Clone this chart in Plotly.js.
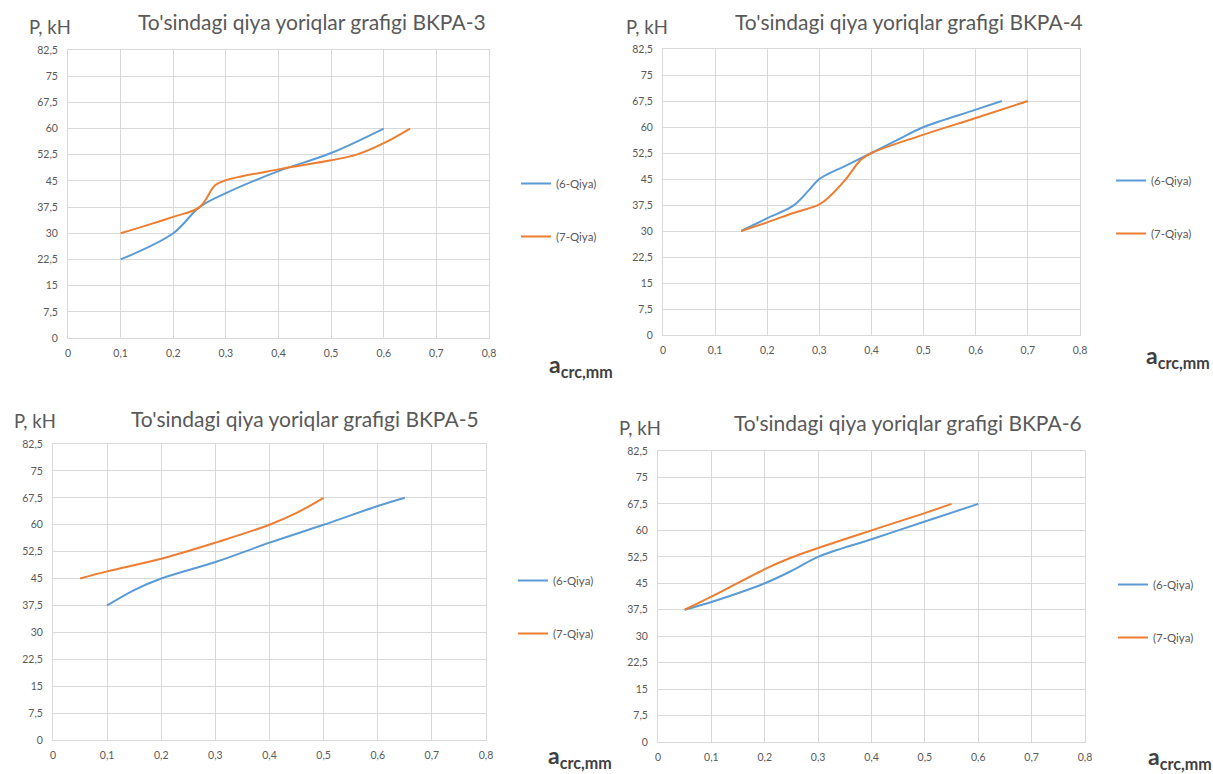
<!DOCTYPE html>
<html>
<head>
<meta charset="utf-8">
<script src="https://cdn.plot.ly/plotly-3.0.1.min.js"></script>
<style>html,body{margin:0;padding:0;background:#fff}#chart{width:1213px;height:774px}</style>
</head>
<body>
<div id="chart"></div>
<script>
// ---- data ----
const xTickVals = [0, 0.1, 0.2, 0.3, 0.4, 0.5, 0.6, 0.7, 0.8];
const xTickText = ['0', '0,1', '0,2', '0,3', '0,4', '0,5', '0,6', '0,7', '0,8'];
const yTickVals = [0, 7.5, 15, 22.5, 30, 37.5, 45, 52.5, 60, 67.5, 75, 82.5];
const yTickText = ['0', '7,5', '15', '22,5', '30', '37,5', '45', '52,5', '60', '67,5', '75', '82,5'];

const seriesNames = ['(6-Qiya)', '(7-Qiya)'];
const chartTitles = [
  "To'sindagi qiya yoriqlar grafigi BKPA-3",
  "To'sindagi qiya yoriqlar grafigi BKPA-4",
  "To'sindagi qiya yoriqlar grafigi BKPA-5",
  "To'sindagi qiya yoriqlar grafigi BKPA-6"
];
const yLabel = 'P, kH';
const xLabel = 'a<sub>crc,mm</sub>';

// BKPA-3
const bkpa3_x6 = [0.1, 0.2, 0.25, 0.3, 0.4, 0.5, 0.6];
const bkpa3_y6 = [22.5, 30, 37.5, 41.5, 47.8, 53, 60];
const bkpa3_x7 = [0.1, 0.2, 0.25, 0.28, 0.3, 0.4, 0.5, 0.55, 0.6, 0.65];
const bkpa3_y7 = [30, 34.7, 37.5, 43.8, 45.2, 48.3, 50.9, 52.6, 55.8, 60];

// BKPA-4
const bkpa4_x6 = [0.15, 0.2, 0.25, 0.28, 0.3, 0.35, 0.4, 0.45, 0.5, 0.6, 0.65];
const bkpa4_y6 = [30, 33.7, 37.3, 41.8, 45, 48.8, 52.5, 56.3, 60, 65, 67.5];
const bkpa4_x7 = [0.15, 0.2, 0.25, 0.3, 0.32, 0.35, 0.38, 0.4, 0.5, 0.6, 0.7];
const bkpa4_y7 = [30, 32.5, 35.2, 37.7, 40, 44.8, 50.6, 52.5, 57.8, 62.6, 67.5];

// BKPA-5
const bkpa5_x6 = [0.1, 0.15, 0.2, 0.3, 0.4, 0.5, 0.6, 0.65];
const bkpa5_y6 = [37.5, 41.8, 45, 49.6, 55, 60, 65.2, 67.5];
const bkpa5_x7 = [0.05, 0.1, 0.2, 0.3, 0.4, 0.45, 0.5];
const bkpa5_y7 = [45, 47, 50.5, 55, 60, 63.3, 67.5];

// BKPA-6
const bkpa6_x6 = [0.05, 0.1, 0.2, 0.25, 0.3, 0.4, 0.5, 0.6];
const bkpa6_y6 = [37.5, 39.7, 45, 48.5, 52.5, 57.5, 62.5, 67.5];
const bkpa6_x7 = [0.05, 0.1, 0.2, 0.25, 0.3, 0.4, 0.5, 0.55];
const bkpa6_y7 = [37.5, 41.2, 49, 52.3, 55, 60, 64.9, 67.5];

// ---- styling / layout ----
const W = 1213, H = 774;
const BLUE = '#5b9bd5', ORANGE = '#ed7d31', GRID = '#d9d9d9', TXT = '#595959';
const FONT = 'Lato, "Open Sans", sans-serif';
const px = v => v / W;
const py = v => 1 - v / H;

const panels = [
  {x6: bkpa3_x6, y6: bkpa3_y6, x7: bkpa3_x7, y7: bkpa3_y7, dom: [68, 489, 50, 338],
   title: [312, 22], plab: [50, 27], leg: [516, 169], alab: [547, 365]},
  {x6: bkpa4_x6, y6: bkpa4_y6, x7: bkpa4_x7, y7: bkpa4_y7, dom: [663, 1080, 49, 335],
   title: [909, 21], plab: [647, 27], leg: [1111, 166], alab: [1144, 356]},
  {x6: bkpa5_x6, y6: bkpa5_y6, x7: bkpa5_x7, y7: bkpa5_y7, dom: [53, 486, 444, 740],
   title: [305, 418], plab: [35, 421], leg: [513, 566], alab: [546, 756]},
  {x6: bkpa6_x6, y6: bkpa6_y6, x7: bkpa6_x7, y7: bkpa6_y7, dom: [658, 1085, 451, 742],
   title: [908, 422], plab: [640, 428], leg: [1113, 570], alab: [1146, 757]}
];

const traces = [];
const layout = {
  width: W, height: H,
  margin: {l: 0, r: 0, t: 0, b: 0},
  paper_bgcolor: '#ffffff', plot_bgcolor: '#ffffff',
  font: {family: FONT, color: TXT},
  annotations: [],
  showlegend: true
};

panels.forEach((p, i) => {
  const n = i === 0 ? '' : String(i + 1);
  const legName = 'legend' + n;
  traces.push({
    x: p.x6, y: p.y6, name: seriesNames[0], type: 'scatter', mode: 'lines',
    line: {color: BLUE, width: 2, shape: 'spline', smoothing: 1},
    xaxis: 'x' + n, yaxis: 'y' + n, legend: legName, legendgroup: 'a' + i
  });
  traces.push({
    x: p.x7, y: p.y7, name: seriesNames[1], type: 'scatter', mode: 'lines',
    line: {color: ORANGE, width: 2, shape: 'spline', smoothing: 1},
    xaxis: 'x' + n, yaxis: 'y' + n, legend: legName, legendgroup: 'b' + i
  });
  const d = p.dom;
  layout['xaxis' + n] = {
    domain: [px(d[0]), px(d[1])], range: [0, 0.8], anchor: 'y' + n,
    tickvals: xTickVals, ticktext: xTickText, tickfont: {size: 10.5, color: TXT, family: FONT},
    showgrid: true, gridcolor: GRID, gridwidth: 1, zeroline: false,
    showline: true, mirror: true, linecolor: GRID, linewidth: 1, ticks: '', fixedrange: true,
    ticklabelstandoff: 5
  };
  layout['yaxis' + n] = {
    domain: [py(d[3]), py(d[2])], range: [0, 82.5], anchor: 'x' + n,
    tickvals: yTickVals, ticktext: yTickText, tickfont: {size: 10.5, color: TXT, family: FONT},
    showgrid: true, gridcolor: GRID, gridwidth: 1, zeroline: false,
    showline: true, mirror: true, linecolor: GRID, linewidth: 1, ticks: '', fixedrange: true,
    ticklabelstandoff: 7
  };
  layout[legName] = {
    x: px(p.leg[0]), y: py(p.leg[1]), xanchor: 'left', yanchor: 'top',
    font: {size: 11.5, color: TXT, family: FONT}, bgcolor: 'rgba(0,0,0,0)',
    tracegroupgap: 34, itemwidth: 30
  };
  layout.annotations.push({
    text: chartTitles[i], x: px(p.title[0]), y: py(p.title[1]), xref: 'paper', yref: 'paper',
    xanchor: 'center', yanchor: 'middle', showarrow: false,
    font: {size: 21, color: TXT, family: FONT}
  });
  layout.annotations.push({
    text: yLabel, x: px(p.plab[0]), y: py(p.plab[1]), xref: 'paper', yref: 'paper',
    xanchor: 'center', yanchor: 'middle', showarrow: false,
    font: {size: 18.5, color: TXT, family: FONT}
  });
  layout.annotations.push({
    text: xLabel, x: px(p.alab[0]), y: py(p.alab[1]), xref: 'paper', yref: 'paper',
    xanchor: 'left', yanchor: 'middle', showarrow: false,
    font: {size: 23, color: '#404040', family: FONT, weight: 'bold'}
  });
});

Plotly.newPlot('chart', traces, layout, {displayModeBar: false, staticPlot: true});
</script>
</body>
</html>
